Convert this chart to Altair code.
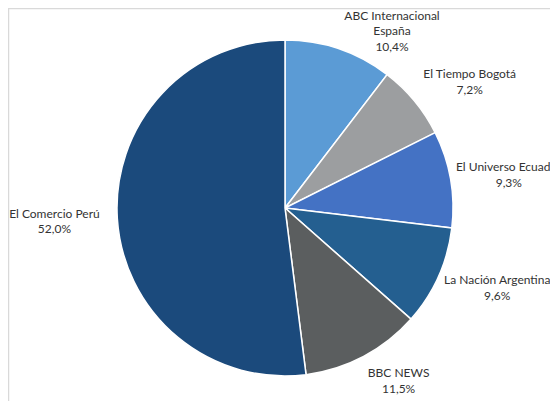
import altair as alt
import pandas as pd

# Data
medios = ["ABC Internacional\nEspaña", "El Tiempo Bogotá", "El Universo  Ecuador",
          "La Nación Argentina", "BBC NEWS", "El Comercio Perú"]
porcentajes = [10.4, 7.2, 9.3, 9.6, 11.5, 52.0]
colores = ["#5B9BD5", "#9C9EA0", "#4472C4", "#245F90", "#5B5E5F", "#1B4A7C"]

labels = [f"{m}\n{str(v).replace('.', ',')}%" for m, v in zip(medios, porcentajes)]
df = pd.DataFrame({
    "medio": medios,
    "valor": porcentajes,
    "orden": list(range(len(medios))),
    "etiqueta": labels,
})

# layout / style
W, H = 542, 393
CX, CY = 277, 200
R = 168
LABEL_R = 215
LH = 15.5
nudges = {
    medios[0]: (38, 27 - LH),
    medios[1]: (19, 11 - LH / 2),
    medios[2]: (12, 4 - LH / 2),
    medios[3]: (16, -8 - LH / 2),
    medios[4]: (13, -17 - LH / 2),
    medios[5]: (-16, 0 - LH / 2),
}

base = alt.Chart(df)

arcs = base.mark_arc(stroke="white", strokeWidth=1.5, radius=R).encode(
    theta=alt.Theta("valor:Q", stack=True),
    order=alt.Order("orden:Q"),
    color=alt.Color("medio:N", scale=alt.Scale(domain=medios, range=colores), legend=None),
    x=alt.value(CX),
    y=alt.value(CY),
)

layers = [arcs]
for m in medios:
    dx, dy = nudges[m]
    t = base.mark_text(
        radius=LABEL_R, dx=dx, dy=dy, lineBreak="\n", font="Lato",
        fontSize=12, lineHeight=LH, color="#333333", align="center", baseline="middle",
    ).encode(
        theta=alt.Theta("valor:Q", stack=True),
        order=alt.Order("orden:Q"),
        text="etiqueta:N",
        x=alt.value(CX),
        y=alt.value(CY),
        opacity=alt.condition(alt.datum.medio == m, alt.value(1), alt.value(0)),
    )
    layers.append(t)

border_top = alt.Chart(pd.DataFrame({"a": [0]})).mark_rule(color="#D9D9D9", strokeWidth=1.5).encode(
    x=alt.value(0), x2=alt.value(W), y=alt.value(0.5)
)
border_left = alt.Chart(pd.DataFrame({"a": [0]})).mark_rule(color="#D9D9D9", strokeWidth=1.5).encode(
    x=alt.value(0.5), y=alt.value(0), y2=alt.value(H)
)
layers += [border_top, border_left]

chart = alt.layer(*layers).properties(
    width=W, height=H,
    autosize=alt.AutoSizeParams(type="none"),
    padding={"left": 0, "top": 0, "right": 0, "bottom": 0},
).configure_view(stroke=None)

chart.save("out.html", embed_options={"renderer": "svg", "actions": False})
